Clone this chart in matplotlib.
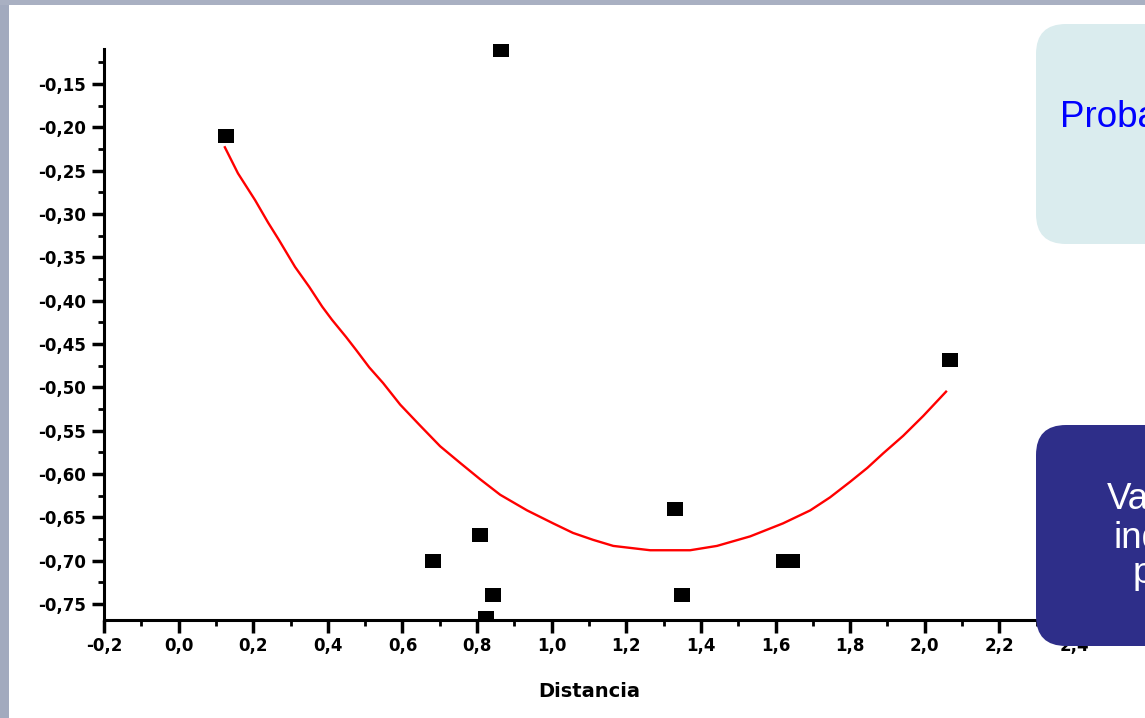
import matplotlib
matplotlib.use("Agg")
import matplotlib.pyplot as plt
from matplotlib.patches import FancyBboxPatch, Rectangle
from matplotlib.transforms import IdentityTransform
from matplotlib.ticker import MultipleLocator, FuncFormatter

# ---- data ----
dist_x = [0.126, 0.863, 2.067, 1.330, 0.808, 0.683, 0.844, 0.825, 1.348, 1.623, 1.645]
val_y = [-0.210, -0.111, -0.469, -0.640, -0.670, -0.700, -0.740, -0.766, -0.740, -0.700, -0.700]

# fitted curve, points
fit_x = [0.124, 0.159, 0.205, 0.240, 0.269, 0.312, 0.350, 0.385, 0.411, 0.449,
         0.476, 0.511, 0.548, 0.594, 0.647, 0.701, 0.754, 0.808, 0.862, 0.934,
         1.004, 1.057, 1.111, 1.165, 1.264, 1.371, 1.443, 1.532, 1.620, 1.693,
         1.746, 1.800, 1.846, 1.889, 1.942, 1.996, 2.057]
fit_y = [-0.223, -0.253, -0.284, -0.310, -0.330, -0.361, -0.384, -0.407, -0.422, -0.442,
         -0.457, -0.477, -0.495, -0.520, -0.544, -0.568, -0.587, -0.606, -0.624, -0.642,
         -0.657, -0.668, -0.676, -0.683, -0.688, -0.688, -0.683, -0.672, -0.657, -0.642,
         -0.627, -0.609, -0.593, -0.576, -0.556, -0.533, -0.505]

x_label = "Distancia"
box1_text = "Probabilidad"
box2_lines = ["Variable", "independiente", "para"]

W, H = 1145, 718
fig = plt.figure(figsize=(W / 100, H / 100), dpi=100)
fig.patch.set_facecolor("white")

# slide border (blue-gray strip)
fig.patches.append(Rectangle((0, 0), 9, H, transform=IdentityTransform(),
                             facecolor="#A2AABE", edgecolor="none", zorder=0))
fig.patches.append(Rectangle((0, H - 5), W, 5, transform=IdentityTransform(),
                             facecolor="#A9B0C2", edgecolor="none", zorder=0))

ax = fig.add_axes([104 / W, 1 - 620 / H, (1074 - 104) / W, (620 - 44) / H])
ax.set_xlim(-0.2, 2.4)
ax.set_ylim(-0.7685, -0.1038)

for s in ["top", "right"]:
    ax.spines[s].set_visible(False)
for s in ["left", "bottom"]:
    ax.spines[s].set_linewidth(2.2)
ax.spines["left"].set_bounds(-0.7685, -0.1096)

ax.xaxis.set_major_locator(MultipleLocator(0.2))
ax.xaxis.set_minor_locator(MultipleLocator(0.1))
ax.yaxis.set_major_locator(MultipleLocator(0.05))
ax.yaxis.set_minor_locator(MultipleLocator(0.025))
ax.xaxis.set_major_formatter(FuncFormatter(lambda v, p: f"{v:.1f}".replace(".", ",").replace("-0,0", "0,0")))
ax.yaxis.set_major_formatter(FuncFormatter(lambda v, p: f"{v:.2f}".replace(".", ",")))

ax.tick_params(axis="both", which="major", direction="out", length=9, width=2.5,
               labelsize=12, color="black")
ax.tick_params(axis="both", which="minor", direction="out", length=4.5, width=2)
ax.tick_params(axis="y", which="major", pad=4)
ax.tick_params(axis="x", which="major", pad=3)
for lab in ax.get_xticklabels() + ax.get_yticklabels():
    lab.set_fontweight("bold")

ax.plot(fit_x, fit_y, color="#FF0000", lw=1.7, zorder=2)

rect_marker = [(-8.5, -6.75), (8.5, -6.75), (8.5, 6.75), (-8.5, 6.75), (-8.5, -6.75)]
ax.plot(dist_x, val_y, linestyle="none", marker=rect_marker, ms=12.2,
        markerfacecolor="black", markeredgewidth=0, zorder=3)

ax.set_xlabel(x_label, fontsize=14, fontweight="bold", labelpad=20)

# right-hand slide boxes (partially cut off by the frame, as in the reference)
fig.patches.append(FancyBboxPatch((1036, H - 244), 220, 220,
                                  boxstyle="round,pad=0,rounding_size=30",
                                  transform=IdentityTransform(),
                                  facecolor="#DAECEE", edgecolor="none", zorder=5))
fig.patches.append(FancyBboxPatch((1036, H - 646), 220, 221,
                                  boxstyle="round,pad=0,rounding_size=30",
                                  transform=IdentityTransform(),
                                  facecolor="#2E2E89", edgecolor="none", zorder=5))

fig.text(1060 / W, 1 - 127 / H, box1_text, color="#0000FF", fontsize=26.5,
         family="Liberation Sans", va="baseline", ha="left", zorder=6)
for txt, xp, yp in zip(box2_lines, [1107, 1113, 1133], [509, 548, 583]):
    fig.text(xp / W, 1 - yp / H, txt, color="white", fontsize=26.5,
             family="Liberation Sans", va="baseline", ha="left", zorder=6)

fig.savefig("out.png", dpi=100)
